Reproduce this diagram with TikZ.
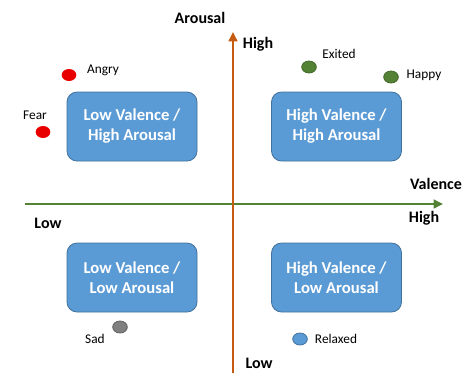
\documentclass[tikz,border=0pt]{standalone}
\usepackage{fontspec}
\setmainfont{Carlito}
\usetikzlibrary{arrows.meta,shapes.geometric}
\definecolor{boxblue}{RGB}{91,155,213}
\definecolor{boxline}{RGB}{65,113,156}
\definecolor{axisgreen}{RGB}{84,130,53}
\definecolor{axisorange}{RGB}{197,90,17}
\definecolor{dotred}{RGB}{232,0,0}
\definecolor{dotgrey}{RGB}{128,128,128}

\begin{document}
\begin{tikzpicture}[x=0.75pt,y=-0.75pt,
    quad/.style={draw=boxline,fill=boxblue,line width=0.6pt,rounded corners=7.5pt,
      minimum width=97.5pt,minimum height=51.75pt,align=center,text=white,
      font=\fontsize{12.5}{15}\selectfont\bfseries},
    emo/.style={ellipse,minimum width=11pt,minimum height=9pt,inner sep=0pt,line width=0.6pt},
    lbl/.style={inner sep=0pt,font=\fontsize{10}{12}\selectfont},
    axlbl/.style={inner sep=0pt,font=\fontsize{12}{14}\selectfont\bfseries}]
    \useasboundingbox(0,0)rectangle(474,387);
    % axes
    \coordinate(hleft) at (25,204);
    \coordinate(hright) at (443,204);
    \coordinate(vbot) at (233,373);
    \coordinate(vtop) at (233,32);
    \draw[axisgreen,line width=2.2pt,-{Triangle[length=7pt,width=6.5pt]}](hleft)--(hright);
    \draw[axisorange,line width=2.2pt,-{Triangle[length=7pt,width=6.5pt]}](vbot)--(vtop);
    \node[axlbl] (arousal) at (200,18) {Arousal};
    \node[axlbl] (ahigh) at (258,44) {High};
    \node[axlbl] (alow) at (259,363) {Low};
    \node[axlbl] (valence) at (436,184) {Valence};
    \node[axlbl] (vhigh) at (424,218) {High};
    \node[axlbl] (vlow) at (48,223) {Low};
    % quadrants
    \node[quad] (lvha) at (132,126.5) {Low Valence /\\High Arousal};
    \node[quad] (hvha) at (336.5,126.5) {High Valence /\\High Arousal};
    \node[quad] (lvla) at (132,277.5) {Low Valence /\\Low Arousal};
    \node[quad] (hvla) at (336.5,277.5) {High Valence /\\Low Arousal};
    % emotions
    \node[emo,fill=dotred] (angry) at (69,75) {};
    \node[lbl] at (103,70) {Angry};
    \node[emo,fill=dotred] (fear) at (43,132) {};
    \node[lbl] at (35,115) {Fear};
    \node[emo,fill=axisgreen,draw=axisgreen!80!black] (exited) at (309,67) {};
    \node[lbl] at (339,54) {Exited};
    \node[emo,fill=axisgreen,draw=axisgreen!80!black] (happy) at (391,77) {};
    \node[lbl] at (424,75) {Happy};
    \node[emo,fill=dotgrey,draw=dotgrey!75!black] (sad) at (120,327) {};
    \node[lbl] at (95,339) {Sad};
    \node[emo,fill=boxblue,draw=boxline] (relaxed) at (300,339) {};
    \node[lbl] at (336,339) {Relaxed};
\end{tikzpicture}
\end{document}
